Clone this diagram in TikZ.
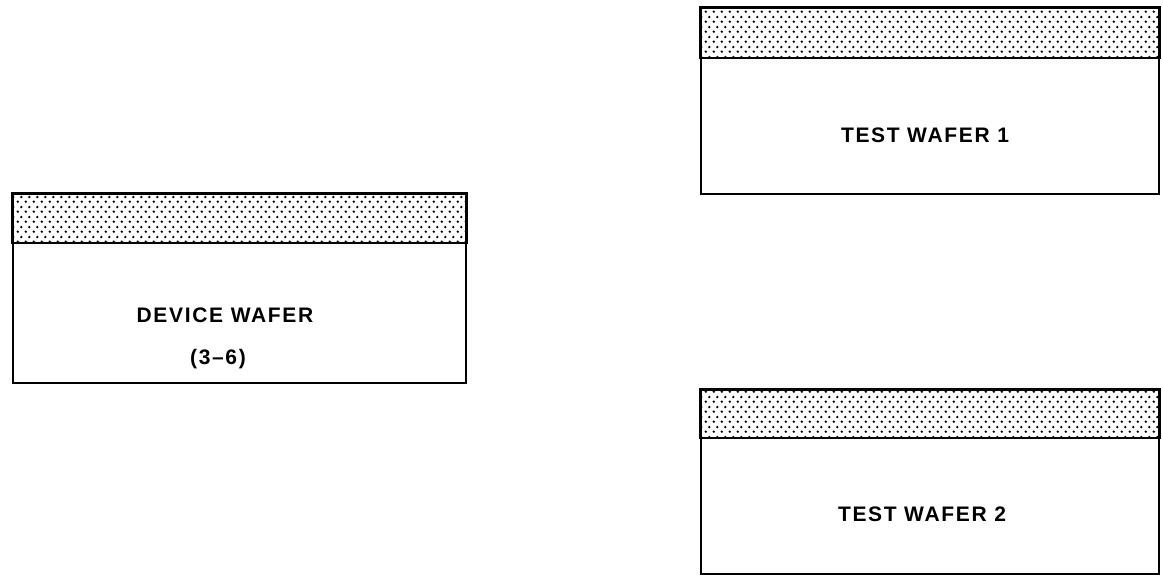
\documentclass[tikz,border=0pt]{standalone}
\usepackage{fontspec}
\setmainfont{Liberation Sans}
\newfontfamily\lblfont[LetterSpace=8]{Liberation Sans Bold}
\usetikzlibrary{patterns.meta}
\pgfdeclarepattern{name=stipple, type=uncolored,
  bottom left={\pgfpoint{0pt}{0pt}}, top right={\pgfpoint{8pt}{10pt}},
  tile size={\pgfpoint{8pt}{10pt}},
  code={\pgfpathcircle{\pgfpoint{2pt}{2.5pt}}{1.45pt}
        \pgfpathcircle{\pgfpoint{6pt}{7.5pt}}{1.45pt}
        \pgfusepath{fill}}}
\tikzset{
  wafer/.style={draw=black, line width=2pt, rectangle, anchor=north west, inner sep=0pt},
  band/.style={pattern=stipple, pattern color=black, draw=black, line width=2pt},
  lbl/.style={font=\fontsize{21}{24}\lblfont, inner sep=0pt, anchor=center}
}
\begin{document}
\begin{tikzpicture}[x=1pt,y=-1pt]
\useasboundingbox (0,0) rectangle (1163,584);
% device wafer
\node[wafer, minimum width=453pt, minimum height=189pt] (dev) at (12,193) {};
\draw[band] (dev.north west) rectangle ([yshift=-50pt]dev.north east);
\node[lbl] (devt) at (225,315) {DEVICE WAFER};
\node[lbl] (devn) at (218,359) {(3–6)};
% test wafer 1
\node[wafer, minimum width=458pt, minimum height=186pt] (tw1) at (700,7) {};
\draw[band] (tw1.north west) rectangle ([yshift=-51pt]tw1.north east);
\node[lbl] (tw1t) at (925,135) {TEST WAFER 1};
% test wafer 2
\node[wafer, minimum width=458pt, minimum height=184pt] (tw2) at (700,389) {};
\draw[band] (tw2.north west) rectangle ([yshift=-49pt]tw2.north east);
\node[lbl] (tw2t) at (922,514) {TEST WAFER 2};
\end{tikzpicture}
\end{document}
